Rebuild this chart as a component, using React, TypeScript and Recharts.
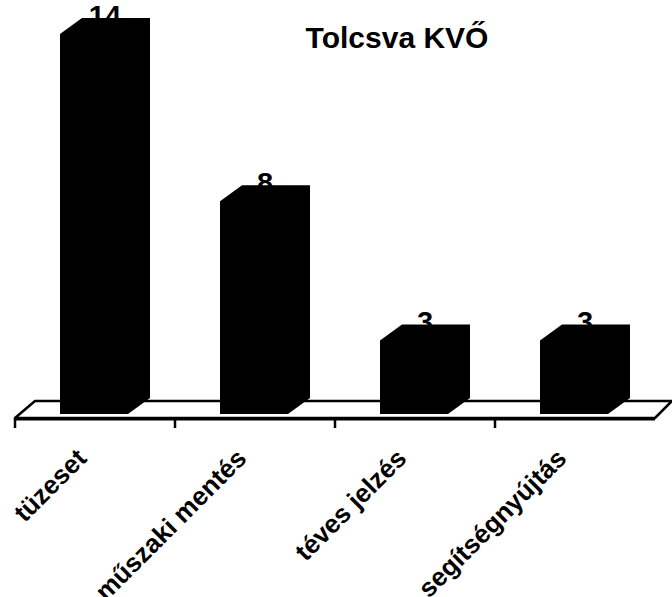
import { Bar, BarChart, ReferenceArea, XAxis, YAxis } from 'recharts';

const categories = ['tüzeset', 'műszaki mentés', 'téves jelzés', 'segítségnyújtás'];
const incidents = [14, 8, 3, 3];
const valueLabels = ['14', '8', '3', '3'];

const data = categories.map((name, i) => ({ name, value: incidents[i], label: valueLabels[i] }));

const font = '"Liberation Sans", Arial, sans-serif';

// black "3D" column: front face with a chamfered top-left and bottom-right corner
function Column(props: any) {
  const { x, y, width, height, payload } = props;
  const left = x + 10;
  const right = left + width;
  const base = y + height + 6;
  const dx = 22;
  const dy = 16;
  const pts = [
    [left, y + dy],
    [left + dx, y],
    [right, y],
    [right, base - dy],
    [right - dx, base],
    [left, base],
  ]
    .map((p) => p.join(','))
    .join(' ');
  return (
    <g>
      <text x={left + width / 2} y={y + 8} textAnchor="middle" fontFamily={font} fontWeight="bold" fontSize={29} fill="#000">
        {payload.label}
      </text>
      <polygon points={pts} fill="#000" />
    </g>
  );
}

// floor plate under the columns, with ticks between categories
function Floor(props: any) {
  const { x, y, width, height } = props;
  const base = y + height;
  const front = base + 10;
  const back = base - 7;
  const band = width / categories.length;
  return (
    <g>
      <polygon
        points={`${x},${front} ${x + 20},${back} ${x + width + 17},${back} ${x + width},${front}`}
        fill="#fff"
        stroke="#000"
        strokeWidth={2.5}
        strokeLinejoin="round"
      />
      <line x1={x} y1={front + 1.5} x2={x + width} y2={front + 1.5} stroke="#000" strokeWidth={2} />
      {categories.map((c, i) => (
        <line key={c} x1={x + i * band} y1={front} x2={x + i * band} y2={front + 10} stroke="#000" strokeWidth={2.5} />
      ))}
    </g>
  );
}

function CategoryTick(props: any) {
  const { x, y, payload } = props;
  return (
    <text
      transform={`translate(${x - 7}, ${y + 52}) rotate(-45)`}
      textAnchor="end"
      fontFamily={font}
      fontWeight="bold"
      fontSize={26}
      fill="#000"
    >
      {payload.value}
    </text>
  );
}

export default function App() {
  return (
    <div style={{ position: 'absolute', left: 0, top: 0, width: 672, height: 597, background: '#fff' }}>
      <div
        style={{
          position: 'absolute',
          left: 247,
          top: 23,
          width: 300,
          textAlign: 'center',
          fontFamily: font,
          fontWeight: 'bold',
          fontSize: 30,
          lineHeight: '30px',
          color: '#000',
        }}
      >
        Tolcsva KVŐ
      </div>
      <BarChart
        width={672}
        height={597}
        data={data}
        margin={{ top: 18, right: 17, bottom: 39, left: 15 }}
        barCategoryGap={35}
      >
        <XAxis
          dataKey="name"
          axisLine={false}
          tickLine={false}
          tickSize={0}
          tickMargin={0}
          height={150}
          interval={0}
          tick={<CategoryTick />}
        />
        <YAxis hide domain={[0, 14]} />
        <ReferenceArea y1={0} y2={0.5} ifOverflow="visible" shape={(p: any) => <Floor {...p} />} />
        <Bar dataKey="value" isAnimationActive={false} shape={(p: any) => <Column {...p} />} />
      </BarChart>
    </div>
  );
}
